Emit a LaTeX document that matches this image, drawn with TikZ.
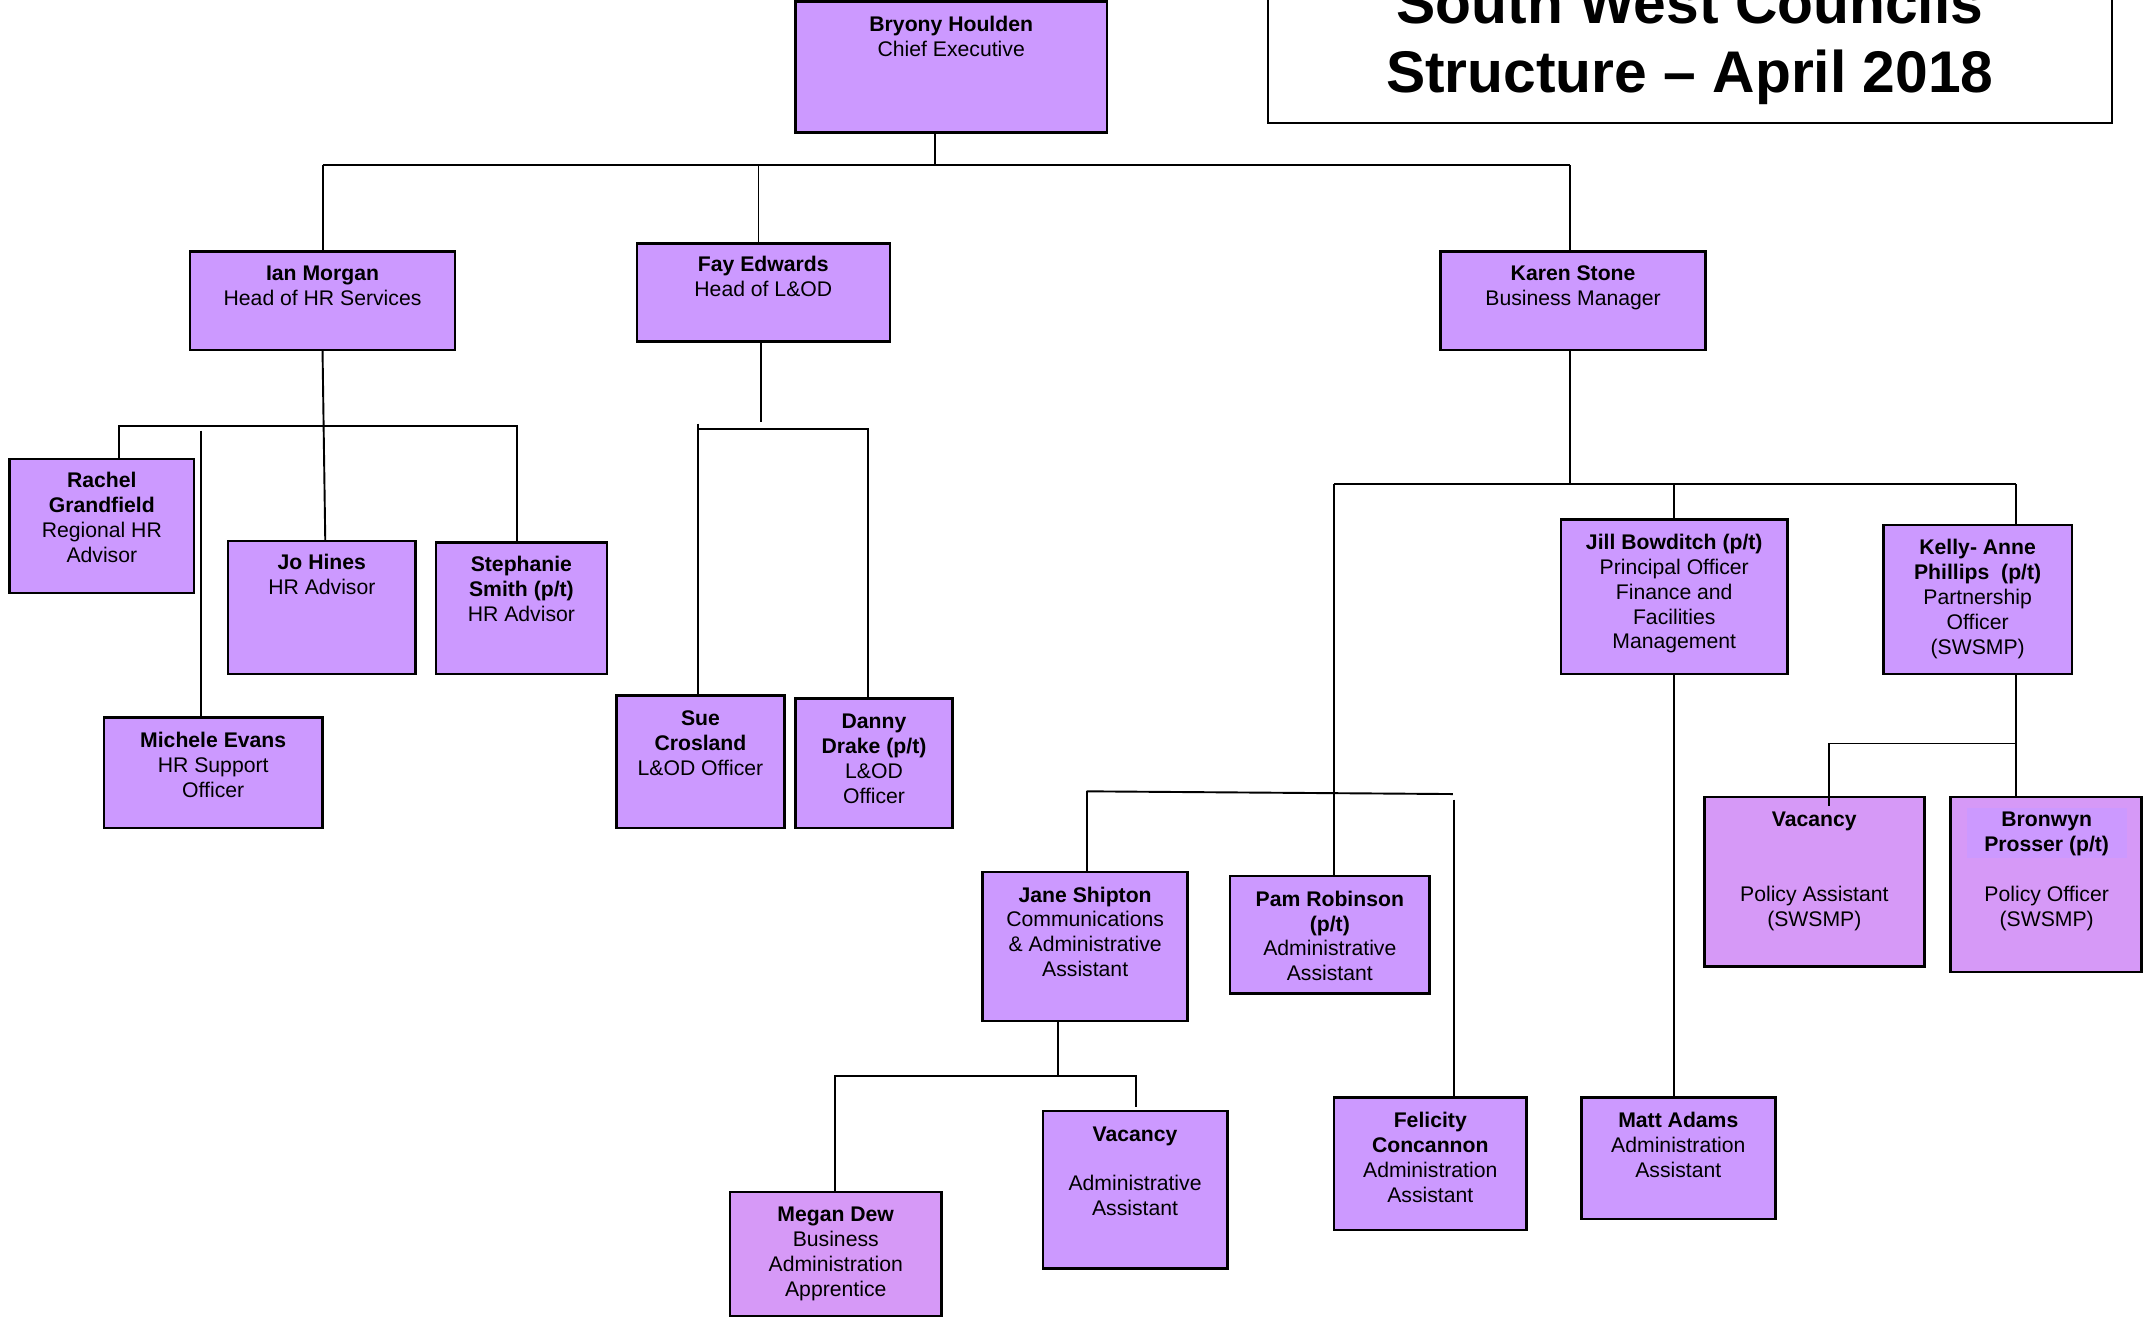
\documentclass[tikz,border=0pt]{standalone}
\usepackage{fontspec}
\setmainfont{Liberation Sans}
\definecolor{lilac}{HTML}{CC99FF}
\definecolor{pinklilac}{HTML}{D699F7}
\begin{document}
\begin{tikzpicture}[x=1pt,y=-1pt,
  box/.style={draw=black, line width=1.8pt, fill=lilac, inner sep=0pt, anchor=center},
  pbox/.style={box, fill=pinklilac},
  txt/.style={inner sep=0pt, anchor=base, align=center, font=\fontsize{15.5}{18.2}\selectfont},
  link/.style={draw=black, line width=1.4pt}]
\useasboundingbox (0,0) rectangle (1568,965);
\fill[white] (0,0) rectangle (1568,965);

% title
\node[draw=black, line width=1.4pt, fill=white, minimum width=617pt, minimum height=160pt, inner sep=0pt] (title) at (1236.5,10) {};
\node[inner sep=0pt, anchor=base, align=center, font=\fontsize{43}{51}\selectfont\bfseries] (titletxt) at (1236.5,68) {South West Councils\\Structure -- April 2018};

% boxes
\node[box, minimum width=228pt, minimum height=96pt] (bryony) at (696,49) {};
\node[txt] (bryonyt) at (696,41.2) {\textbf{Bryony Houlden}\\Chief Executive};

\node[box, minimum width=194pt, minimum height=72pt] (ian) at (236,220) {};
\node[txt] (iant) at (236,223.2) {\textbf{Ian Morgan}\\Head of HR Services};

\node[box, minimum width=185pt, minimum height=72pt] (fay) at (558.5,214) {};
\node[txt] (fayt) at (558.5,217.2) {\textbf{Fay Edwards}\\Head of L\&OD};

\node[box, minimum width=194pt, minimum height=72pt] (karen) at (1151,220) {};
\node[txt] (karent) at (1151,223.2) {\textbf{Karen Stone}\\Business Manager};

\node[box, minimum width=135pt, minimum height=98pt] (rachel) at (74.5,385) {};
\node[txt] (rachelt) at (74.5,411.6) {\textbf{Rachel}\\\textbf{Grandfield}\\Regional HR\\Advisor};

\node[box, minimum width=137pt, minimum height=97pt] (jo) at (235.5,444.5) {};
\node[txt] (jot) at (235.5,435.2) {\textbf{Jo Hines}\\HR Advisor};

\node[box, minimum width=125pt, minimum height=96pt] (steph) at (381.5,445) {};
\node[txt] (stepht) at (381.5,454.4) {\textbf{Stephanie}\\\textbf{Smith (p/t)}\\HR Advisor};

\node[box, minimum width=160pt, minimum height=81pt] (michele) at (156,565.5) {};
\node[txt] (michelet) at (156,583.4) {\textbf{Michele Evans}\\HR Support\\Officer};

\node[box, minimum width=123pt, minimum height=97pt] (sue) at (512.5,557.5) {};
\node[txt] (suet) at (512.5,567.4) {\textbf{Sue}\\\textbf{Crosland}\\L\&OD Officer};

\node[box, minimum width=115pt, minimum height=95pt] (danny) at (639.5,558.5) {};
\node[txt] (dannyt) at (639.5,587.6) {\textbf{Danny}\\\textbf{Drake (p/t)}\\L\&OD\\Officer};

\node[box, minimum width=166pt, minimum height=113pt] (jill) at (1225,436.5) {};
\node[txt] (jillt) at (1225,474.8) {\textbf{Jill Bowditch (p/t)}\\Principal Officer\\Finance and\\Facilities\\Management};

\node[box, minimum width=138pt, minimum height=109pt] (kelly) at (1447,438.5) {};
\node[txt] (kellyt) at (1447,478.8) {\textbf{Kelly- Anne}\\\textbf{Phillips\ \ (p/t)}\\Partnership\\Officer\\(SWSMP)};

\node[pbox, minimum width=161pt, minimum height=124pt] (vacp) at (1327.5,645) {};
\node[txt] (vacpt) at (1327.5,677.8) {\textbf{Vacancy}\\[36.4pt]Policy Assistant\\(SWSMP)};

\node[pbox, minimum width=140pt, minimum height=128pt] (bronwyn) at (1497,647) {};
\fill[lilac] (1439,591) rectangle (1556,628);
\node[txt] (bronwynt) at (1497.5,677.8) {\textbf{Bronwyn}\\\textbf{Prosser (p/t)}\\[18.2pt]Policy Officer\\(SWSMP)};

\node[box, minimum width=150pt, minimum height=109pt] (jane) at (794,692.5) {};
\node[txt] (janet) at (794,714.6) {\textbf{Jane Shipton}\\Communications\\\& Administrative\\Assistant};

\node[box, minimum width=146pt, minimum height=86pt] (pam) at (973,684) {};
\node[txt] (pamt) at (973,717.6) {\textbf{Pam Robinson}\\\textbf{(p/t)}\\Administrative\\Assistant};

\node[pbox, minimum width=155pt, minimum height=91pt] (megan) at (611.5,917.5) {};
\node[txt] (megant) at (611.5,948.6) {\textbf{Megan Dew}\\Business\\Administration\\Apprentice};

\node[box, minimum width=135pt, minimum height=115pt] (vaca) at (830.5,870.5) {};
\node[txt] (vacat) at (830.5,889.6) {\textbf{Vacancy}\\[18.2pt]Administrative\\Assistant};

\node[box, minimum width=141pt, minimum height=97pt] (felicity) at (1046.5,851.5) {};
\node[txt] (felicityt) at (1046.5,879.6) {\textbf{Felicity}\\\textbf{Concannon}\\Administration\\Assistant};

\node[box, minimum width=142pt, minimum height=89pt] (matt) at (1228,847.5) {};
\node[txt] (mattt) at (1228,861.4) {\textbf{Matt Adams}\\Administration\\Assistant};

% connectors: top level
\coordinate (jA) at (684,121);
\coordinate (jAL) at (236,121);
\coordinate (jAM) at (555,121);
\coordinate (jAR) at (1149,121);
\draw[link] (jA |- bryony.south) -- (jA);
\draw[link] (jAL) -- (jAR);
\draw[link] (jAL) -- (ian.north);
\draw[link] (jAM) -- (jAM |- fay.north);
\draw[link] (jAR) -- (jAR |- karen.north);

% HR
\coordinate (jBL) at (87,312);
\coordinate (jBR) at (378,312);
\coordinate (jBm) at (147,315);
\coordinate (joTop) at (238,396);
\draw[link] (ian.south) -- (joTop);
\draw[link] (jBL |- rachel.north) -- (jBL) -- (jBR) -- (jBR |- steph.north);
\draw[link] (jBm) -- (jBm |- michele.north);

% L&OD
\coordinate (jC) at (557,309);
\coordinate (jCLt) at (511,310);
\coordinate (jCL) at (511,314);
\coordinate (jCR) at (635,314);
\draw[link] (jC |- fay.south) -- (jC);
\draw[link] (jCLt) -- (jCLt |- sue.north);
\draw[link] (jCL) -- (jCR) -- (jCR |- danny.north);

% Business
\coordinate (jD) at (1149,354);
\coordinate (jDL) at (976,354);
\coordinate (jDM) at (1225,354);
\coordinate (jDR) at (1475,354);
\coordinate (pamTop) at (976,640);
\draw[link] (jD |- karen.south) -- (jD);
\draw[link] (jDL) -- (jDR);
\draw[link] (jDL) -- (pamTop);
\draw[link] (jDM) -- (jDM |- jill.north);
\draw[link] (jDR) -- (jDR |- kelly.north);
\draw[link] (jill.south) -- (jill.south |- matt.north);

% SWSMP
\coordinate (jE) at (1475,544);
\coordinate (jEL) at (1338,544);
\coordinate (vacEnd) at (1338,590);
\draw[link] (jE |- kelly.south) -- (jE |- bronwyn.north);
\draw[link] (jE) -- (jEL) -- (vacEnd);

% admin
\coordinate (jF1) at (795,579);
\coordinate (jF2) at (1063,581);
\coordinate (jF3) at (1064,585);
\draw[link] (jF1) -- (jF2);
\draw[link] (jF1) -- (jF1 |- jane.north);
\draw[link] (jF3) -- (jF3 |- felicity.north);

% Jane's team
\coordinate (jG) at (774,787);
\coordinate (jGL) at (611,787);
\coordinate (jGR) at (831,787);
\coordinate (vaEnd) at (831,810);
\draw[link] (jG |- jane.south) -- (jG);
\draw[link] (jGL |- megan.north) -- (jGL) -- (jGR) -- (vaEnd);
\end{tikzpicture}
\end{document}
